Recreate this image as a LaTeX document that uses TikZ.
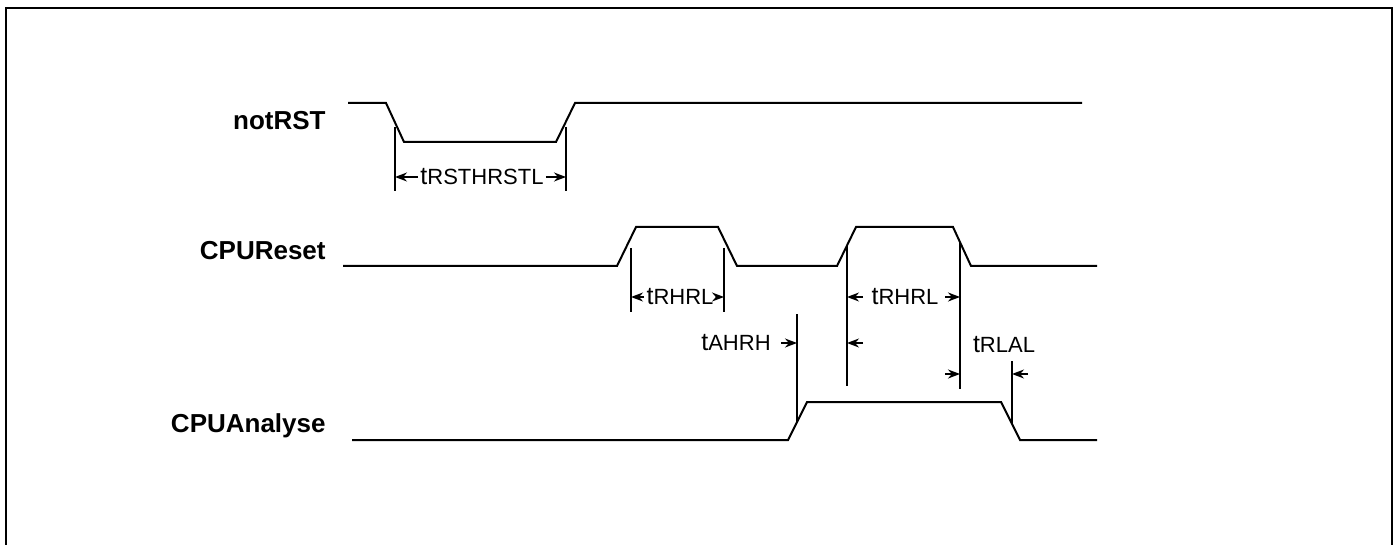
\documentclass[tikz,border=0pt]{standalone}
\usepackage{fontspec}
\setmainfont{Liberation Sans}
\usetikzlibrary{arrows.meta, positioning}
\newcommand{\tname}[1]{{\fontsize{12.5}{14}\selectfont t}{\fontsize{11}{12}\selectfont #1}}

\begin{document}
\begin{tikzpicture}[
		x=0.5pt, y=-0.5pt,
		wave/.style={line width=1pt, line join=miter},
		tick/.style={line width=1pt},
		dim/.style={-{Stealth[length=6pt, width=4.5pt]}, line width=0.8pt},
		signame/.style={font=\fontsize{13}{15}\selectfont\bfseries, anchor=base east, inner sep=0pt},
		timelabel/.style={inner sep=1pt}
		]
		
		\useasboundingbox (0,0) rectangle (1397,545);
		
		% Rahmen (unten offen)
		\draw[line width=1.2pt] (6,545) -- (6,8) -- (1392,8) -- (1392,545);
		
		% Signalnamen
		\node[signame] (nRST) at (326,130) {notRST};
		\node[signame] (cpuRst) at (326,260) {CPUReset};
		\node[signame] (cpuAn) at (326,432) {CPUAnalyse};
		
		% Signalverlaeufe
		\draw[wave] (348,103) -- (386,103) -- (404,142) -- (556,142) -- (575,103) -- (1082,103);
		\draw[wave] (343,266) -- (617,266) -- (636,227) -- (718,227) -- (737,266) -- (837,266)
			-- (856,227) -- (953,227) -- (971,266) -- (1097,266);
		\draw[wave] (352,440) -- (788,440) -- (807,402) -- (1001,402) -- (1020,440) -- (1097,440);
		
		% Hilfslinien
		\coordinate (rstA) at (395,127);
		\coordinate (rstB) at (566,127);
		\coordinate (rhA) at (631,248);
		\coordinate (rhB) at (724,248);
		\coordinate (ahr) at (797,314);
		\coordinate (rhC) at (847,245);
		\coordinate (rhD) at (960,242);
		\coordinate (rlal) at (1012,361);
		
		\draw[tick] (rstA) -- ++(0,64);
		\draw[tick] (rstB) -- ++(0,64);
		\draw[tick] (rhA) -- ++(0,64);
		\draw[tick] (rhB) -- ++(0,64);
		\draw[tick] (ahr) -- (797,422);
		\draw[tick] (rhC) -- (847,386);
		\draw[tick] (rhD) -- (960,389);
		\draw[tick] (rlal) -- (1012,424);
		
		% Zeitbezeichnungen
		\node[timelabel] (tRst) at (482,177) {\tname{RSTHRSTL}};
		\node[timelabel] (tRh1) at (680,297) {\tname{RHRL}};
		\node[timelabel] (tAh) at (736,343) {\tname{AHRH}};
		\node[timelabel] (tRh2) at (905,297) {\tname{RHRL}};
		\node[timelabel] (tRl) at (1004,345) {\tname{RLAL}};
		
		% Masspfeile
		\draw[dim] (tRst.west) -- (tRst.west -| rstA);
		\draw[dim] (tRst.east) -- (tRst.east -| rstB);
		\draw[dim] (tRh1.west) -- (tRh1.west -| rhA);
		\draw[dim] (tRh1.east) -- (tRh1.east -| rhB);
		\draw[dim] (tRh2.west -| 863,0) -- (tRh2.west -| rhC);
		\draw[dim] (tRh2.east -| 945,0) -- (tRh2.east -| rhD);
		\draw[dim] (781,343) -- (ahr |- tAh);
		\draw[dim] (863,343) -- (rhC |- tAh);
		\draw[dim] (945,374) -- (960,374);
		\draw[dim] (1028,374) -- (1012,374);
		
\end{tikzpicture}
\end{document}
